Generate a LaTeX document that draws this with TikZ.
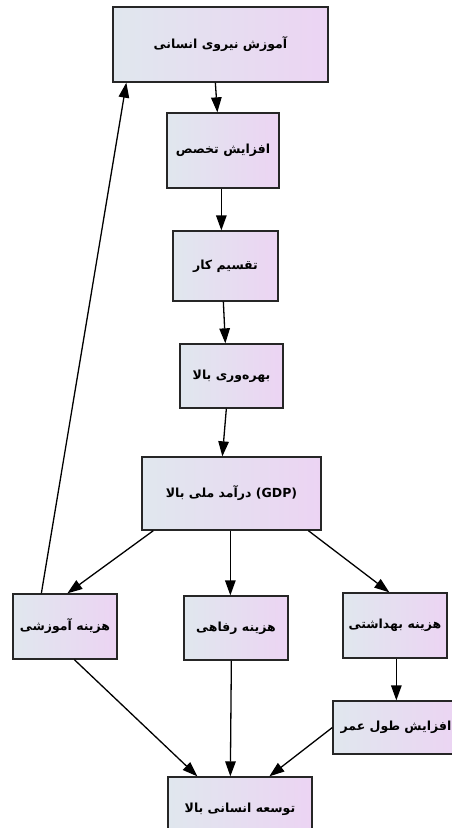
\documentclass[tikz,border=0pt]{standalone}
\usepackage{fontspec}
\TeXXeTstate=1
\newfontfamily\arabicfont[Script=Arabic]{DejaVu Sans}
\usetikzlibrary{arrows.meta}
\definecolor{gleft}{HTML}{E0E7EE}
\definecolor{gright}{HTML}{ECD4F3}
\tikzset{
  box/.style={draw=black!85, line width=1.3pt, left color=gleft, right color=gright,
    shade, inner sep=0pt, align=center, font=\arabicfont\bfseries\fontsize{12.5}{15}\selectfont},
  conn/.style={line width=1.3pt, -{Triangle[length=15pt,width=10.5pt]}}
}
\newcommand{\rtl}[1]{\beginR #1\endR}
\begin{document}
\begin{tikzpicture}[x=1pt,y=-1pt]
\useasboundingbox (0,0) rectangle (451,828);
\node[box, minimum width=215pt, minimum height=75pt] (n1) at (220.5,44.5) {\rtl{آموزش نیروی انسانی}};
\node[box, minimum width=112pt, minimum height=75pt] (n2) at (223,150.5) {\rtl{افزایش تخصص}};
\node[box, minimum width=105pt, minimum height=70pt] (n3) at (225.5,266) {\rtl{تقسیم کار}};
\node[box, minimum width=103pt, minimum height=64pt] (n4) at (231.5,376) {\rtl{بهره‌وری بالا}};
\node[box, minimum width=179pt, minimum height=73pt] (n5) at (231.5,493.5) {\rtl{\beginL(GDP)\endL{} درآمد ملی بالا}};
\node[box, minimum width=104pt, minimum height=65pt] (n6) at (65,626.5) {\rtl{هزینه آموزشی}};
\node[box, minimum width=104pt, minimum height=64pt] (n7) at (236,628) {\rtl{هزینه رفاهی}};
\node[box, minimum width=104pt, minimum height=65pt] (n8) at (395,625.5) {\rtl{هزینه بهداشتی}};
\node[box, minimum width=126pt, minimum height=53pt] (n9) at (396,727.5) {\rtl{افزایش طول عمر}};
\node[box, minimum width=144pt, minimum height=64pt] (n10) at (240,809) {\rtl{توسعه انسانی بالا}};

\draw[conn] ([xshift=103pt]n1.south west) -- ([xshift=51pt]n2.north west);
\draw[conn] ([xshift=29pt]n6.north west) -- ([xshift=14pt]n1.south west);
\draw[conn] ([xshift=55pt]n2.south west) -- ([xshift=49pt]n3.north west);
\draw[conn] ([xshift=51pt]n3.south west) -- ([xshift=46pt]n4.north west);
\draw[conn] ([xshift=47pt]n4.south west) -- ([xshift=81pt]n5.north west);
\draw[conn] ([xshift=12pt]n5.south west) -- ([xshift=55pt]n6.north west);
\draw[conn] ([xshift=89pt]n5.south west) -- ([xshift=47pt]n7.north west);
\draw[conn] ([xshift=167pt]n5.south west) -- ([xshift=47pt]n8.north west);
\draw[conn] ([xshift=62pt]n6.south west) -- ([xshift=30pt]n10.north west);
\draw[conn] ([xshift=48pt]n7.south west) -- ([xshift=63pt]n10.north west);
\draw[conn] ([xshift=54pt]n8.south west) -- ([xshift=64pt]n9.north west);
\draw[conn] (n9.west) -- ([xshift=102pt]n10.north west);
\end{tikzpicture}
\end{document}
